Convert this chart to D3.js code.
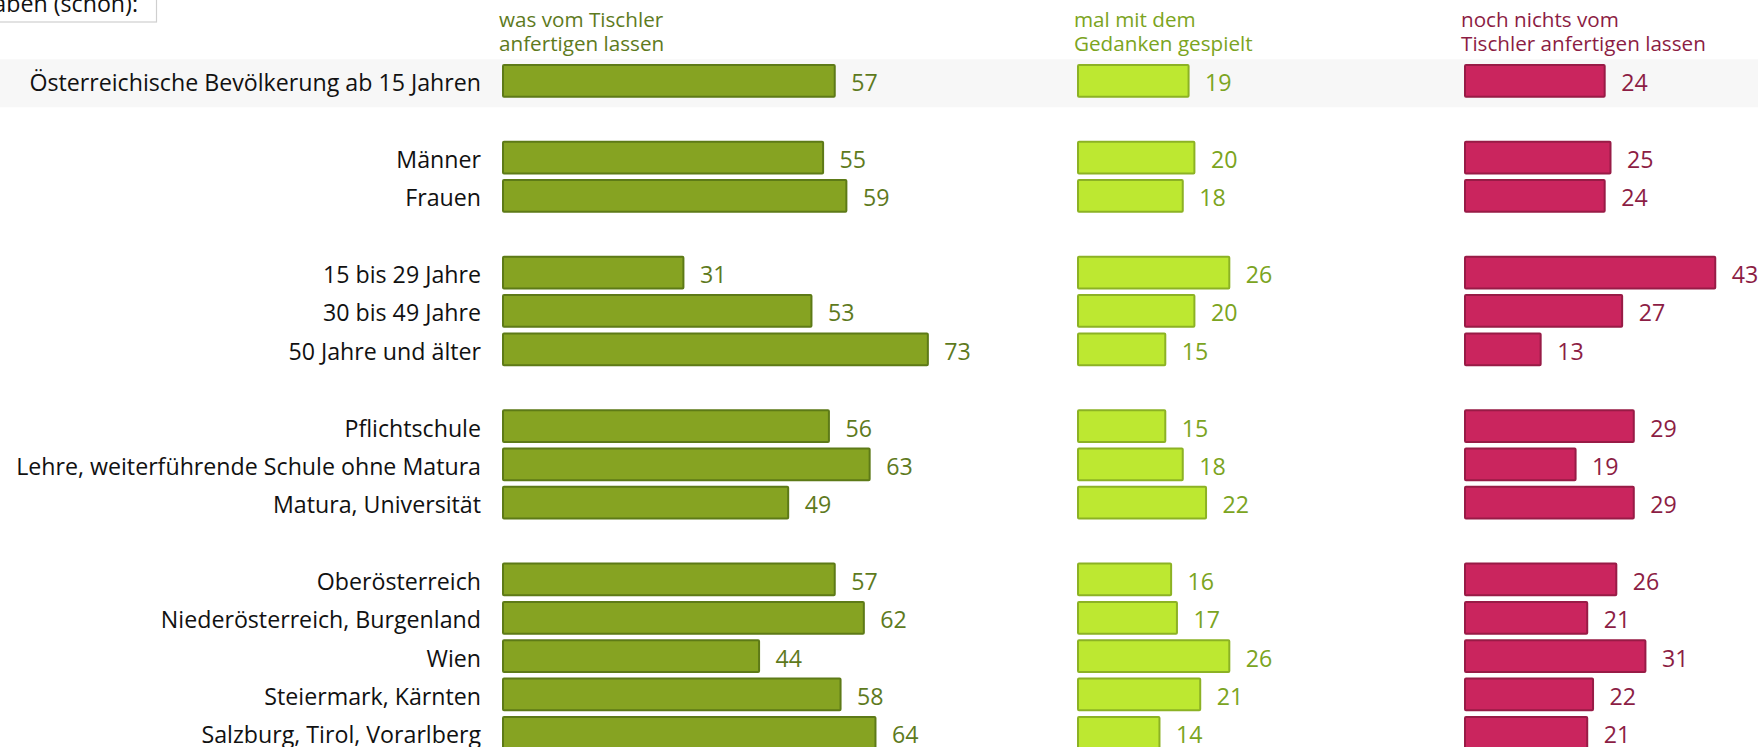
<!DOCTYPE html>
<html>
<head>
<meta charset="utf-8">
<script src="https://cdn.jsdelivr.net/npm/d3@7"></script>
<style>
  body { margin: 0; background: #ffffff; overflow: hidden; }
  svg { display: block; font-family: "Open Sans", Lato, sans-serif; }
</style>
</head>
<body>
<div id="chart-container"></div>
<script>
// Row labels (null = empty spacer row between groups)
const categories = [
  'Österreichische Bevölkerung ab 15 Jahren',
  null,
  'Männer',
  'Frauen',
  null,
  '15 bis 29 Jahre',
  '30 bis 49 Jahre',
  '50 Jahre und älter',
  null,
  'Pflichtschule',
  'Lehre, weiterführende Schule ohne Matura',
  'Matura, Universität',
  null,
  'Oberösterreich',
  'Niederösterreich, Burgenland',
  'Wien',
  'Steiermark, Kärnten',
  'Salzburg, Tirol, Vorarlberg'
];

const seriesNames = [
  ['was vom Tischler', 'anfertigen lassen'],
  ['mal mit dem', 'Gedanken gespielt'],
  ['noch nichts vom', 'Tischler anfertigen lassen']
];

const anfertigen = [57, null, 55, 59, null, 31, 53, 73, null, 56, 63, 49, null, 57, 62, 44, 58, 64];
const gedanken   = [19, null, 20, 18, null, 26, 20, 15, null, 15, 18, 22, null, 16, 17, 26, 21, 14];
const nochNicht  = [24, null, 25, 24, null, 43, 27, 13, null, 29, 19, 29, null, 26, 21, 31, 22, 21];

const cornerText = 'haben (schon):';

// Chart configuration
const width = 1758;
const height = 747;

const series = [
  { values: anfertigen, x0: 502, fill: '#86a322', stroke: '#5d7a17', text: '#5e7a1d', head: '#5e7a1d' },
  { values: gedanken,   x0: 1077, fill: '#bde831', stroke: '#8cb224', text: '#7ba421', head: '#7ba421' },
  { values: nochNicht,  x0: 1464, fill: '#ca255e', stroke: '#981b46', text: '#8c1d44', head: '#8c1d44' }
];

const svg = d3.select('#chart-container')
  .append('svg')
  .attr('width', width)
  .attr('height', height);

// find a font size so that a text gets the wanted width
function fitSize(str, target) {
  const t = svg.append('text').attr('font-size', '100px').text(str);
  const len = t.node().getComputedTextLength();
  t.remove();
  return 100 * target / len;
}

const labelSize = fitSize('Österreichische Bevölkerung ab 15 Jahren', 452);
const headSize = fitSize('Tischler anfertigen lassen', 245);

// Scales
const slots = categories.map((c, i) => 'slot' + i);
const yScale = d3.scaleBand()
  .domain(slots)
  .range([64, 64 + 38.35 * (slots.length - 0.12)])
  .paddingInner(0.12)
  .paddingOuter(0);

const xScale = d3.scaleLinear()
  .domain([0, 100])
  .range([0, 582]);

const bh = yScale.bandwidth();

// Highlight band behind the total row
svg.append('rect')
  .attr('x', 0)
  .attr('y', yScale('slot0') - 4.7)
  .attr('width', width)
  .attr('height', 48)
  .attr('fill', '#f7f7f7');

// Corner box (cut off question text)
svg.append('rect')
  .attr('x', -10)
  .attr('y', -20)
  .attr('width', 166.5)
  .attr('height', 42)
  .attr('fill', '#ffffff')
  .attr('stroke', '#cfcfcf')
  .attr('stroke-width', 1.2);

svg.append('text')
  .attr('x', 138)
  .attr('y', 11.5)
  .attr('text-anchor', 'end')
  .attr('font-size', labelSize + 'px')
  .attr('fill', '#111')
  .text(cornerText);

// Category labels
svg.selectAll('.cat-label')
  .data(categories.map((c, i) => ({ label: c, slot: slots[i] })).filter(d => d.label))
  .enter()
  .append('text')
  .attr('class', 'cat-label')
  .attr('x', 481)
  .attr('y', d => yScale(d.slot) + bh / 2 + 10.5)
  .attr('text-anchor', 'end')
  .attr('font-size', labelSize + 'px')
  .attr('fill', '#111')
  .text(d => d.label);

// Series: headers, bars, value labels
series.forEach((s, si) => {
  const g = svg.append('g');

  const header = g.append('text')
    .attr('x', s.x0 - 3)
    .attr('font-size', headSize + 'px')
    .attr('fill', s.head);
  seriesNames[si].forEach((line, li) => {
    header.append('tspan')
      .attr('x', s.x0 - 3)
      .attr('y', 26.7 + li * 24)
      .text(line);
  });

  const rows = s.values.map((v, i) => ({ v, slot: slots[i] })).filter(d => d.v !== null);

  g.selectAll('.bar')
    .data(rows)
    .enter()
    .append('rect')
    .attr('class', 'bar')
    .attr('x', s.x0 + 1)
    .attr('y', d => yScale(d.slot) + 1)
    .attr('width', d => xScale(d.v))
    .attr('height', bh - 2)
    .attr('fill', s.fill)
    .attr('stroke', s.stroke)
    .attr('stroke-width', 2)
    .attr('rx', 1);

  g.selectAll('.value')
    .data(rows)
    .enter()
    .append('text')
    .attr('class', 'value')
    .attr('x', d => s.x0 + xScale(d.v) + 17.5)
    .attr('y', d => yScale(d.slot) + bh / 2 + 10.5)
    .attr('font-size', labelSize + 'px')
    .attr('fill', s.text)
    .text(d => d.v);
});
</script>
</body>
</html>
